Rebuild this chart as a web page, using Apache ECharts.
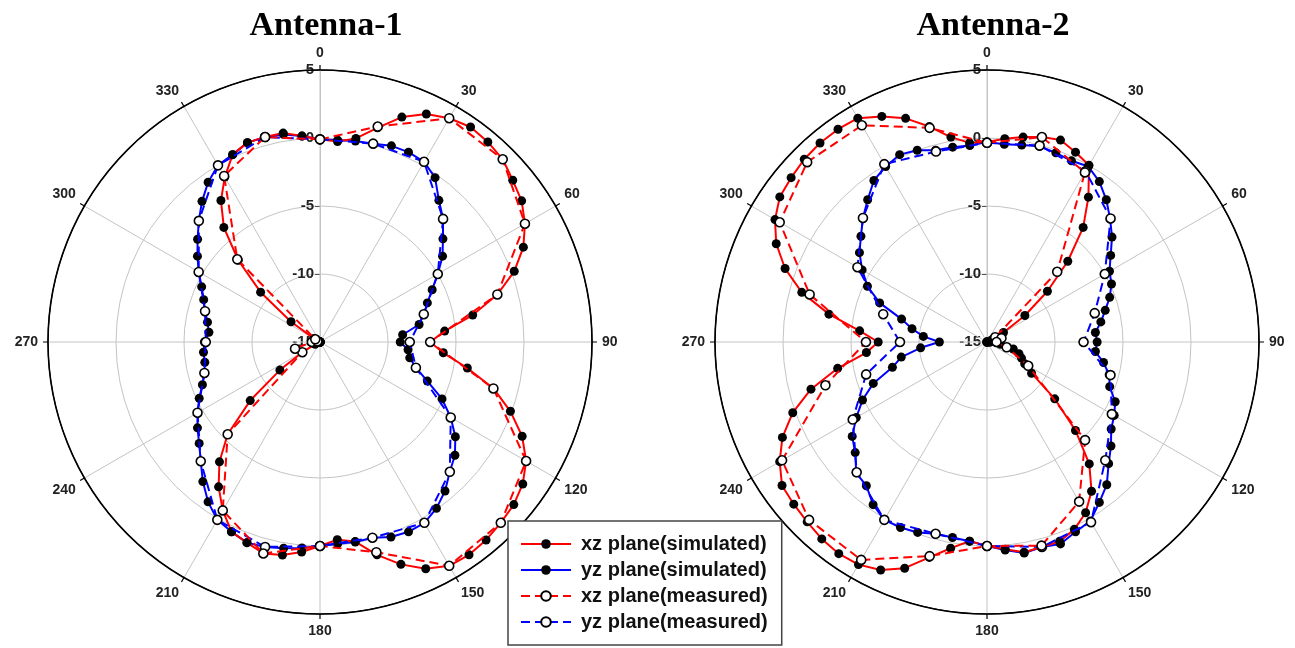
<!DOCTYPE html>
<html><head><meta charset="utf-8">
<script src="https://cdn.jsdelivr.net/npm/echarts@6/dist/echarts.min.js"></script>
<style>html,body{margin:0;padding:0;background:#fff}#c{width:1295px;height:648px}</style>
</head><body><div id="c"></div>
<script>
// angles (degrees)
const simAngles = [0,5,10,15,20,25,30,35,40,45,50,55,60,65,70,75,80,85,90,95,100,105,110,115,120,125,130,135,140,145,150,155,160,165,170,175,180,185,190,195,200,205,210,215,220,225,230,235,240,245,250,255,260,265,270,275,280,285,290,295,300,305,310,315,320,325,330,335,340,345,350,355];
const measAngles = [0,15,30,45,60,75,90,105,120,135,150,165,180,195,210,225,240,255,270,285,300,315,330,345];
const angleTicks = ['0','30','60','90','120','150','180','210','240','270','300','330'];
const radiusTicks = ['-15','-10','-5','0','5'];

// Antenna-1 (dB)
const ant1XzSim = [-0.1,-0.2,0.2,1.3,2.6,3.5,4.0,4.3,4.2,4.0,3.5,3.1,2.4,1.5,0.2,-1.5,-3.6,-5.8,-6.9,-5.9,-4.0,-1.8,-0.1,1.4,2.5,3.2,3.6,3.8,4.0,4.1,4.0,3.4,2.4,1.2,-0.1,-0.4,0.0,0.5,0.9,1.1,0.7,0.4,-0.7,-2.0,-3.5,-5.4,-8.3,-11.4,-13.5,-14.6,-15,-15,-15,-15,-15,-15,-15,-15,-15,-15,-14.5,-12.4,-9.3,-6.5,-4.0,-2.3,-1.0,0.2,0.6,0.6,0.6,0.2];
const ant1YzSim = [-0.1,-0.1,0.0,0.1,0.35,0.4,0.3,-0.25,-1.4,-2.2,-3.2,-4.0,-5.0,-5.9,-6.6,-7.1,-7.6,-8.9,-9.1,-8.5,-8.3,-7.7,-6.6,-5.1,-3.9,-2.85,-2.05,-1.5,-0.7,-0.07,0.35,0.4,0.26,-0.1,-0.07,-0.1,0.0,0.2,0.4,0.6,0.7,0.4,0.1,-0.65,-1.6,-2.6,-3.4,-4.0,-4.6,-5.2,-5.8,-6.2,-6.4,-6.4,-6.5,-6.8,-6.6,-6.25,-5.9,-5.4,-4.7,-4.0,-3.25,-2.4,-1.5,-0.66,0.0,0.2,0.6,0.6,0.5,0.2];
const ant1XzMeas = [-0.1,1.4,4.0,4.0,2.4,-1.5,-6.9,-1.8,2.5,3.8,4.0,1.0,0.0,1.1,-0.7,-5.4,-13.5,-13.1,-14.4,-14.8,-14.6,-6.4,-0.9,0.6];
const ant1YzMeas = [-0.1,0.1,0.3,-2.2,-5.0,-7.1,-8.4,-7.7,-3.9,-1.5,0.35,-0.1,0.0,0.6,0.1,-2.6,-4.6,-6.2,-6.6,-6.25,-4.7,-2.4,0.0,0.6];

// Antenna-2 (dB)
const ant2XzSim = [-0.3,0.0,0.3,0.6,0.8,0.4,0.0,-2.0,-4.0,-6.6,-9.2,-11.6,-13.6,-14.6,-15,-15,-15,-15,-15,-14.8,-14.0,-13.0,-12.5,-12.2,-11.8,-11.0,-8.5,-5.8,-3.3,-1.6,-0.5,0.2,0.6,0.6,0.7,0.3,0.0,-0.3,0.4,1.4,2.7,3.5,3.9,4.0,3.9,3.7,3.55,3.4,2.6,1.6,0.2,-1.6,-3.85,-6.1,-7.0,-5.6,-3.2,-0.9,0.8,2.1,3.0,3.6,3.8,4.0,4.1,4.1,4.0,3.3,2.5,1.4,0.3,-0.3];
const ant2YzSim = [-0.3,-0.4,-0.3,-0.1,-0.2,-0.3,-0.1,-0.6,-1.35,-2.2,-3.0,-3.9,-4.6,-4.9,-5.4,-6.0,-6.5,-7.0,-6.9,-7.0,-6.3,-5.7,-5.4,-4.6,-4.2,-3.85,-3.1,-2.35,-1.3,-0.6,0.2,0.4,0.8,0.6,0.75,0.35,0.0,-0.3,-0.4,-0.4,-0.1,0.05,0.1,-0.4,-1.2,-1.4,-2.35,-2.9,-3.9,-4.9,-6.1,-7.8,-8.6,-10.1,-11.5,-10.3,-9.4,-8.5,-6.6,-5.3,-4.4,-3.55,-2.9,-2.1,-1.35,-0.5,-0.1,0.2,0.0,-0.4,-0.45,-0.5];
const ant2XzMeas = [-0.35,0.6,-0.6,-7.7,-14.3,-13.9,-14.3,-13.5,-11.5,-4.8,-1.45,0.5,0.0,1.3,3.5,3.5,2.4,-2.7,-6.1,-1.5,2.6,3.7,3.4,1.3];
const ant2YzMeas = [-0.35,-0.05,-0.5,-2.15,-5.0,-6.8,-7.9,-5.6,-4.4,-2.7,0.3,0.6,0.0,-0.4,0.1,-1.45,-3.6,-5.8,-8.6,-7.1,-4.0,-2.1,0.1,-0.5];

const titles = ['Antenna-1','Antenna-2'];
const names = ['xz plane(simulated)','yz plane(simulated)','xz plane(measured)','yz plane(measured)'];

const chart = echarts.init(document.getElementById('c'), null, {renderer:'canvas'});
const centers = [[320,342],[987,342]];
const gray = '#c4c4c4';

function angleAxis(i){
  return {polarIndex:i, type:'value', min:0, max:360, interval:30, startAngle:90, clockwise:true,
    axisLine:{show:true, lineStyle:{color:'#000', width:1.6}},
    axisTick:{show:true, length:5, lineStyle:{color:'#000', width:1.2}},
    axisLabel:{show:true, margin:10, color:'#222', fontFamily:'Liberation Sans', fontWeight:'bold', fontSize:14,
      formatter:function(v){ const s=String(v); return angleTicks.indexOf(s)>=0 ? s : ''; }},
    splitLine:{show:true, lineStyle:{color:gray, width:1}}, z:3};
}
function radiusAxis(i){
  return {polarIndex:i, type:'value', min:-15, max:5, interval:5,
    axisLine:{show:true, lineStyle:{color:gray, width:1}},
    axisTick:{show:true, length:5, lineStyle:{color:'#555'}},
    axisLabel:{show:true, margin:6, color:'#222', fontFamily:'Liberation Sans', fontWeight:'bold', fontSize:15,
      formatter:function(v){ const s=String(v); return radiusTicks.indexOf(s)>=0 ? s : ''; }},
    splitLine:{show:true, lineStyle:{color:[gray,gray,gray,gray,'#000'], width:1}}, z:1};
}
function mk(name, p, angles, vals, color, measured){
  const data = angles.map((a,k)=>[vals[k], a]);
  data.push({value:[vals[0], 360], symbol:'none'});
  return {name:name, type:'line', coordinateSystem:'polar', polarIndex:p, data:data,
    symbol:'circle', symbolSize: 9, smooth:false,
    lineStyle:{color:color, width:2, type: measured ? [9,5] : 'solid'},
    itemStyle:{color: measured ? '#fff' : '#000', borderColor:'#000', borderWidth: measured ? 1.6 : 0},
    z: measured ? 5 : 4, animation:false};
}

const series = [];
[[ant1XzSim,ant1YzSim,ant1XzMeas,ant1YzMeas],[ant2XzSim,ant2YzSim,ant2XzMeas,ant2YzMeas]].forEach((s,p)=>{
  series.push(mk(names[1], p, simAngles, s[1], '#0000ff', false));
  series.push(mk(names[0], p, simAngles, s[0], '#ff0000', false));
  series.push(mk(names[3], p, measAngles, s[3], '#0000ff', true));
  series.push(mk(names[2], p, measAngles, s[2], '#ff0000', true));
});

chart.setOption({
  animation:false,
  backgroundColor:'#fff',
  title: titles.map((t,i)=>({text:t, left: centers[i][0]+1, top:4, textAlign:'center',
    textStyle:{fontFamily:'Liberation Serif', fontWeight:'bold', fontSize:34, color:'#000'}})),
  polar: centers.map(c=>({center:c, radius:272})),
  angleAxis: [angleAxis(0), angleAxis(1)],
  radiusAxis: [radiusAxis(0), radiusAxis(1)],
  legend: {data:names, orient:'vertical', left:508, top:521, backgroundColor:'#fff',
    borderColor:'#444', borderWidth:1.5, padding:[13,14,13,12], itemGap:6, itemWidth:50, itemHeight:12,
    textStyle:{fontFamily:'Liberation Sans', fontWeight:'bold', fontSize:20, color:'#111', lineHeight:20, padding:[0,0,0,5]},
    z:20},
  series: series
});
</script></body></html>
